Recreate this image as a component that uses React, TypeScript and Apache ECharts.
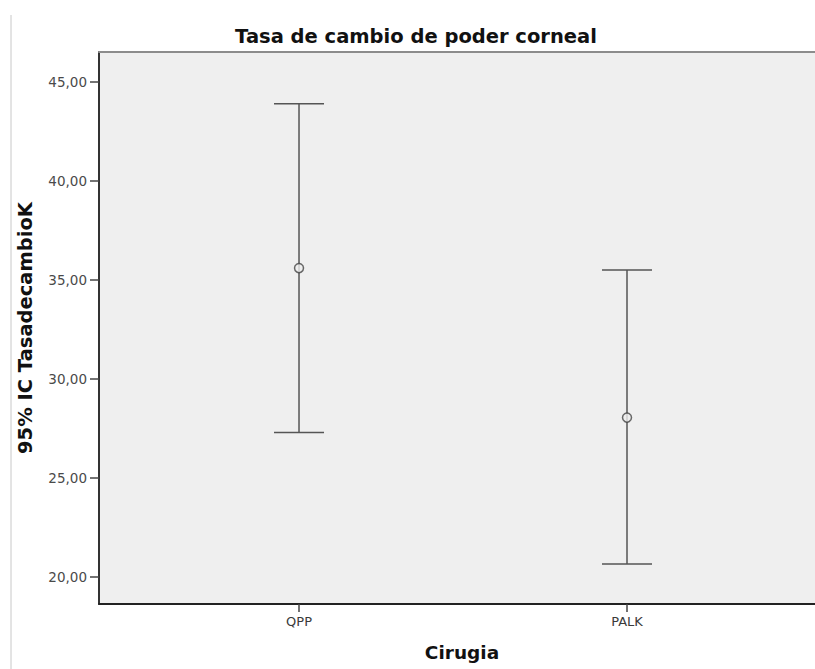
import React, { useEffect, useRef } from "react";
import * as echarts from "echarts";

const categories = ["QPP", "PALK"];
const lowerCI = [27.3, 20.65];
const upperCI = [43.9, 35.5];
const means = [35.6, 28.05];
const yTicks = [20, 25, 30, 35, 40, 45];

const FONT = "DejaVu Sans";

export default function App() {
  const ref = useRef<HTMLDivElement>(null);
  useEffect(() => {
    if (!ref.current) return;
    document.documentElement.style.overflow = "hidden";
    document.body.style.overflow = "hidden";
    const chart = echarts.init(ref.current, null, { renderer: "svg" });
    const errData = categories.map((_, i) => [i, lowerCI[i], upperCI[i]]);
    const meanData = categories.map((_, i) => [i, means[i]]);
    const xMin = -0.6098;
    const xMax = 1.6494;
    chart.setOption({
      animation: false,
      backgroundColor: "#ffffff",
      title: {
        text: "Tasa de cambio de poder corneal",
        left: 411,
        textAlign: "center",
        top: 21,
        textStyle: { fontFamily: FONT, fontWeight: "bold", fontSize: 19.5, color: "#111" },
      },
      grid: {
        left: 99,
        top: 52,
        right: 0,
        bottom: 65,
        show: true,
        backgroundColor: "#efefef",
        borderWidth: 0,
        borderColor: "transparent",
      },
      xAxis: [
        {
          type: "value",
          min: xMin,
          max: xMax,
          position: "bottom",
          name: "Cirugia",
          nameLocation: "middle",
          nameGap: 39,
          nameTextStyle: {
            fontFamily: FONT,
            fontWeight: "bold",
            fontSize: 18.5,
            color: "#111",
            padding: [0, 15, 0, 0],
          },
          axisLine: { show: true, onZero: false, lineStyle: { color: "#222", width: 2 } },
          axisTick: { show: true, customValues: [0, 1], length: 8, lineStyle: { color: "#444", width: 1.5 } },
          axisLabel: {
            customValues: [0, 1],
            formatter: (v: number) => categories[Math.round(v)] ?? "",
            fontFamily: FONT,
            fontSize: 13,
            color: "#3a3a3a",
            margin: 11,
          },
          splitLine: { show: false },
        },
        {
          type: "value",
          min: xMin,
          max: xMax,
          position: "top",
          axisLine: { show: true, onZero: false, lineStyle: { color: "#8c8c8c", width: 2 } },
          axisTick: { show: false },
          axisLabel: { show: false },
          splitLine: { show: false },
        },
      ],
      yAxis: {
        type: "value",
        min: 18.636,
        max: 46.515,
        name: "95% IC TasadecambioK",
        nameLocation: "middle",
        nameGap: 64,
        nameTextStyle: { fontFamily: FONT, fontWeight: "bold", fontSize: 19.5, color: "#111" },
        axisLine: { show: true, onZero: false, lineStyle: { color: "#333", width: 2 } },
        axisTick: { show: true, customValues: yTicks, length: 9, lineStyle: { color: "#444", width: 1.5 } },
        axisLabel: {
          customValues: yTicks,
          formatter: (v: number) => v.toFixed(2).replace(".", ","),
          fontFamily: FONT,
          fontSize: 13.5,
          color: "#4a4a4a",
          margin: 12,
        },
        splitLine: { show: false },
      },
      graphic: [
        {
          type: "line",
          shape: { x1: 11, y1: 15, x2: 11, y2: 669 },
          style: { stroke: "#c8c8c8", lineWidth: 1 },
        },
      ],
      series: [
        {
          type: "custom",
          xAxisIndex: 0,
          data: errData,
          renderItem: (params: any, api: any) => {
            const x = api.value(0);
            const lo = api.coord([x, api.value(1)]);
            const hi = api.coord([x, api.value(2)]);
            const hw = 25;
            const st = { stroke: "#555", lineWidth: 1.5 };
            return {
              type: "group",
              children: [
                { type: "line", shape: { x1: lo[0], y1: lo[1], x2: hi[0], y2: hi[1] }, style: st },
                { type: "line", shape: { x1: lo[0] - hw, y1: lo[1], x2: lo[0] + hw, y2: lo[1] }, style: st },
                { type: "line", shape: { x1: hi[0] - hw, y1: hi[1], x2: hi[0] + hw, y2: hi[1] }, style: st },
              ],
            };
          },
        },
        {
          type: "scatter",
          xAxisIndex: 0,
          data: meanData,
          symbol: "circle",
          symbolSize: 9,
          itemStyle: { color: "#efefef", borderColor: "#444", borderWidth: 1.5 },
          z: 5,
        },
      ],
    });
    return () => chart.dispose();
  }, []);
  return (
    <div
      ref={ref}
      style={{ position: "absolute", left: 0, top: 0, width: 840, height: 669 }}
    />
  );
}
